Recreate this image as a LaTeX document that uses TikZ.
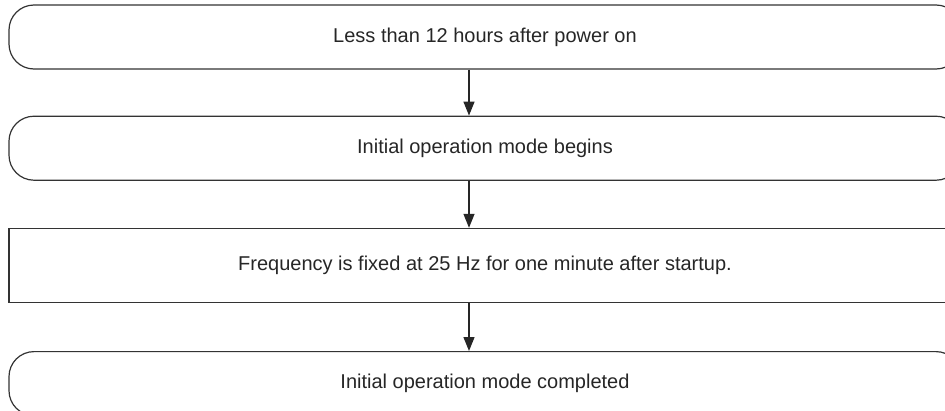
\documentclass[tikz,border=0pt]{standalone}
\usepackage{fontspec}
\setmainfont{Liberation Sans}
\usetikzlibrary{positioning,arrows.meta}

\begin{document}
\begin{tikzpicture}
    [x=1pt, y=1pt,
    node distance=47pt,
    stepbox/.style={draw=black!80, line width=1.2pt, text=black!85,
        minimum width=952pt, minimum height=64pt, inner sep=0pt,
        font=\fontsize{20}{23}\selectfont},
    roundbox/.append style={stepbox, rounded corners=25pt},
    flow/.style={draw=black!85, line width=1.3pt,
        -{Triangle[length=14pt,width=11pt]}}]
    \useasboundingbox (0,0) rectangle (945,-410);
    \clip (0,0) rectangle (945,-410);
    \node [roundbox] (power) at (485,-37) {Less than 12 hours after power on};
    \node [roundbox, below=46pt of power] (begin) {Initial operation mode begins};
    \node [stepbox, minimum height=74pt, below=of begin] (fixed)
        {Frequency is fixed at 25 Hz for one minute after startup.};
    \node [roundbox, below=48pt of fixed] (done) {Initial operation mode completed};
    \draw [flow] ([xshift=-16pt]power.south) -- ([xshift=-16pt]begin.north);
    \draw [flow] ([xshift=-16pt]begin.south) -- ([xshift=-16pt]fixed.north);
    \draw [flow] ([xshift=-16pt]fixed.south) -- ([xshift=-16pt]done.north);
\end{tikzpicture}
\end{document}
